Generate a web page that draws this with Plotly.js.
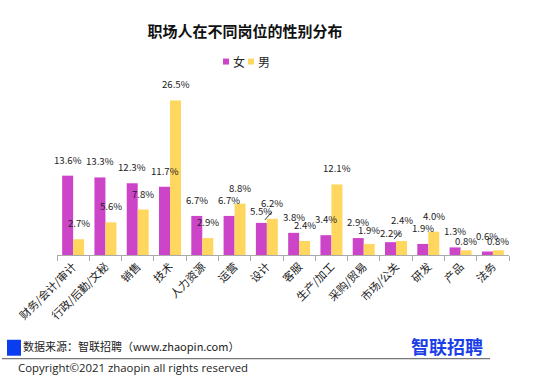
<!DOCTYPE html>
<html><head><meta charset="utf-8">
<script src="https://cdn.plot.ly/plotly-3.0.1.min.js"></script>
<style>html,body{margin:0;padding:0;background:#fff}#chart{width:556px;height:390px}</style>
</head><body><div id="chart"></div>
<script>
var categories = ["财务/会计/审计","行政/后勤/文秘","销售","技术","人力资源","运营","设计","客服","生产/加工","采购/贸易","市场/公关","研发","产品","法务"];
var female = [13.6,13.3,12.3,11.7,6.7,6.7,5.5,3.8,3.4,2.9,2.2,1.9,1.3,0.6];
var male = [2.7,5.6,7.8,26.5,2.9,8.8,6.2,2.4,12.1,1.9,2.4,4.0,0.8,0.8];
var seriesNames = ["女","男"];
var colors = ['#CC44C8','#FFD65E'];

var W=556,H=390,L=57,R=509,T=79.5,B=255;
function px(x){return (x-L)/(R-L);}
function py(y){return (B-y)/(B-T);}
var cjk = '"Noto Sans CJK SC", "Microsoft YaHei", sans-serif';

var traces = [
 {type:'bar',name:seriesNames[0],x:categories,y:female,marker:{color:colors[0]},hoverinfo:'none'},
 {type:'bar',name:seriesNames[1],x:categories,y:male,marker:{color:colors[1]},hoverinfo:'none'}
];

// label placement nudges (pixels), styling only
var nudge = {'0-6':-4,'0-10':-7,'1-10':5,'1-9':-2,'1-12':-7,'1-13':-7};
var annotations = [];
[female,male].forEach(function(vals,s){
  vals.forEach(function(v,i){
    annotations.push({xref:'x',yref:'y',x:categories[i],y:v,xshift:s===0?-5.5:5.5,yshift:7+(nudge[s+'-'+i]||0),
      xanchor:'center',yanchor:'bottom',showarrow:false,text:v.toFixed(1)+'%',
      font:{size:9.6,family:cjk,color:'#222'}});
  });
});
annotations.push(
  {xref:'paper',yref:'paper',x:px(231),y:py(61),xanchor:'left',yanchor:'middle',showarrow:false,text:seriesNames[0],font:{size:12,family:cjk,color:'#222'}},
  {xref:'paper',yref:'paper',x:px(256),y:py(61),xanchor:'left',yanchor:'middle',showarrow:false,text:seriesNames[1],font:{size:12,family:cjk,color:'#222'}},
  {xref:'paper',yref:'paper',x:px(21),y:py(346),xanchor:'left',yanchor:'middle',showarrow:false,text:'数据来源：智联招聘（www.zhaopin.com）',font:{size:11,family:cjk,color:'#222'}},
  {xref:'paper',yref:'paper',x:px(16),y:py(368),xanchor:'left',yanchor:'middle',showarrow:false,text:'Copyright©2021 zhaopin all rights reserved',font:{size:11.4,family:'"Open Sans", sans-serif',color:'#222'}},
  {xref:'paper',yref:'paper',x:px(447),y:py(346),xanchor:'center',yanchor:'middle',showarrow:false,text:'<b>智联招聘</b>',font:{size:18,family:cjk,color:'#1a3ee8'}}
);

function leader(ci,val){
  return {type:'line',xref:'x',yref:'y',xsizemode:'pixel',ysizemode:'pixel',xanchor:ci,yanchor:val,
    x0:-2,x1:5,y0:3,y1:11,line:{color:'#333',width:1}};
}

var layout = {
 width:W,height:H,margin:{l:L,r:W-R,t:T,b:H-B,autoexpand:false},
 paper_bgcolor:'#fff',plot_bgcolor:'#fff',
 font:{family:cjk,color:'#222'},
 title:{text:'<b>职场人在不同岗位的性别分布</b>',font:{size:15,color:'#111',family:cjk},x:245/W,xanchor:'center',y:1-32/H,yanchor:'middle'},
 barmode:'group',bargap:0.32,bargroupgap:0,
 showlegend:false,
 xaxis:{type:'category',range:[-0.5,categories.length-0.5],autorange:false,showline:true,linecolor:'#aaa',linewidth:1,ticks:'outside',tickson:'boundaries',ticklen:5,tickcolor:'#aaa',tickangle:-45,tickfont:{size:11,family:cjk,color:'#222'},showgrid:false,zeroline:false,automargin:false},
 yaxis:{range:[0,30],autorange:false,visible:false,showgrid:false,zeroline:false},
 shapes:[
  leader(6,female[6]),
  leader(10,female[10]),
  {type:'rect',xref:'paper',yref:'paper',x0:px(223),x1:px(229),y0:py(64),y1:py(58),fillcolor:colors[0],line:{width:0}},
  {type:'rect',xref:'paper',yref:'paper',x0:px(248),x1:px(254),y0:py(64),y1:py(58),fillcolor:colors[1],line:{width:0}},
  {type:'rect',xref:'paper',yref:'paper',x0:px(7),x1:px(21),y0:py(356),y1:py(340),fillcolor:'#0a3cf0',line:{width:0}},
  {type:'line',xref:'paper',yref:'paper',x0:px(2),x1:px(490),y0:py(359),y1:py(359),line:{color:'#555',width:1}}
 ],
 annotations:annotations
};
Plotly.newPlot('chart',traces,layout,{staticPlot:true,displayModeBar:false});
</script></body></html>
